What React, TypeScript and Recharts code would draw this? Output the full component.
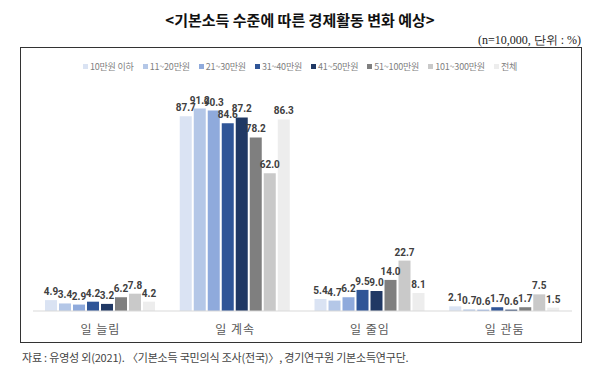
import { Bar, BarChart, LabelList, XAxis, YAxis } from "recharts";

const categories = ["일 늘림", "일 계속", "일 줄임", "일 관둠"];

const seriesNames = [
  "10만원 이하",
  "11~20만원",
  "21~30만원",
  "31~40만원",
  "41~50만원",
  "51~100만원",
  "101~300만원",
  "전체",
];

const under10 = [4.9, 87.7, 5.4, 2.1];
const from11to20 = [3.4, 91.2, 4.7, 0.7];
const from21to30 = [2.9, 90.3, 6.2, 0.6];
const from31to40 = [4.2, 84.6, 9.5, 1.7];
const from41to50 = [3.2, 87.2, 9.0, 0.6];
const from51to100 = [6.2, 78.2, 14.0, 1.7];
const from101to300 = [7.8, 62.0, 22.7, 7.5];
const total = [4.2, 86.3, 8.1, 1.5];

const seriesValues = [
  under10,
  from11to20,
  from21to30,
  from31to40,
  from41to50,
  from51to100,
  from101to300,
  total,
];

const colors = [
  "#dae3f3",
  "#b4c7e7",
  "#8faadc",
  "#2f5597",
  "#203864",
  "#7f7f7f",
  "#c9c9c9",
  "#ededed",
];

const data = categories.map((name, i) => {
  const row: Record<string, string | number> = { name };
  seriesNames.forEach((s, j) => {
    row[s] = seriesValues[j][i];
  });
  return row;
});

const font = "'Noto Sans CJK KR', 'Noto Sans', sans-serif";
const labelFont = "'Liberation Sans Narrow', 'Roboto', sans-serif";

export default function App() {
  return (
    <div
      style={{
        position: "absolute",
        left: 0,
        top: 0,
        width: 600,
        height: 380,
        background: "#fff",
        fontFamily: font,
        overflow: "hidden",
      }}
    >
      <div
        style={{
          position: "absolute",
          top: 9,
          left: 0,
          width: 600,
          textAlign: "center",
          fontSize: 15,
          fontWeight: 700,
          color: "#111",
        }}
      >
        &lt;기본소득 수준에 따른 경제활동 변화 예상&gt;
      </div>
      <div
        style={{
          position: "absolute",
          top: 32,
          right: 19,
          fontSize: 12,
          fontFamily: "'Liberation Serif', serif",
          color: "#222",
        }}
      >
        (n=10,000, 단위 : %)
      </div>
      <div
        style={{
          position: "absolute",
          left: 20,
          top: 47,
          width: 560,
          height: 294,
          border: "1px solid #333",
        }}
      />
      <div
        style={{
          position: "absolute",
          top: 60,
          left: 0,
          width: 600,
          display: "flex",
          justifyContent: "center",
          gap: 9,
          fontSize: 9,
          color: "#7f7f7f",
          letterSpacing: -0.2,
        }}
      >
        {seriesNames.map((s, i) => (
          <span key={s} style={{ display: "flex", alignItems: "center" }}>
            <span
              style={{
                display: "inline-block",
                width: 5,
                height: 5,
                background: colors[i],
                marginRight: 2,
              }}
            />
            {s}
          </span>
        ))}
      </div>
      <div style={{ position: "absolute", left: 0, top: 0 }}>
        <BarChart
          width={600}
          height={380}
          data={data}
          margin={{ top: 89, right: 28, left: 33, bottom: 39 }}
          barCategoryGap={12}
          barGap={2}
        >
          <XAxis
            dataKey="name"
            height={30}
            axisLine={{ stroke: "#d9d9d9" }}
            tickLine={false}
            tick={{ fontSize: 12, fill: "#595959", fontFamily: font, letterSpacing: 1 }}
            dy={6}
          />
          <YAxis hide domain={[0, 100]} />
          {seriesNames.map((s, i) => (
            <Bar key={s} dataKey={s} fill={colors[i]} isAnimationActive={false}>
              <LabelList
                dataKey={s}
                position="top"
                offset={5}
                formatter={(v: number) => v.toFixed(1)}
                style={{
                  fontSize: 10,
                  fill: "#404040",
                  fontWeight: 700,
                  fontFamily: labelFont,
                }}
              />
            </Bar>
          ))}
        </BarChart>
      </div>
      <div
        style={{
          position: "absolute",
          top: 349,
          left: 22,
          fontSize: 11,
          letterSpacing: -0.2,
          color: "#444",
        }}
      >
        자료 : 유영성 외(2021). 〈기본소득 국민의식 조사(전국)〉, 경기연구원 기본소득연구단.
      </div>
    </div>
  );
}
